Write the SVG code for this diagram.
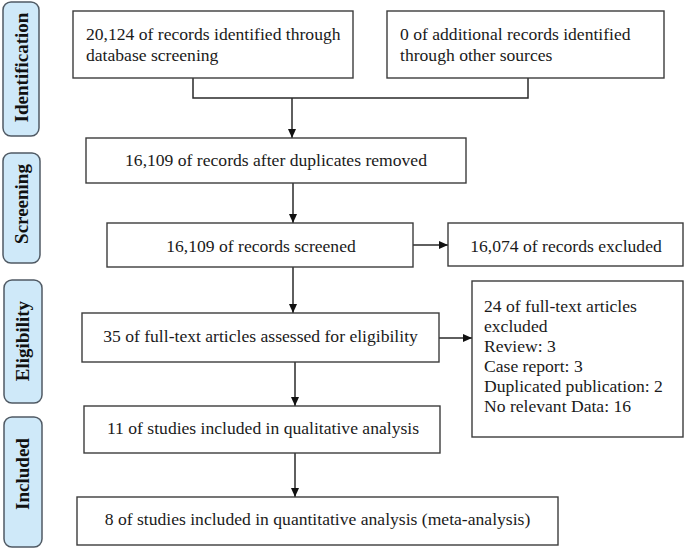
<svg xmlns="http://www.w3.org/2000/svg" width="685" height="549" viewBox="0 0 685 549">
<style>
.bg{fill:#ffffff}
.pill{fill:#cfe9f9;stroke:#505a64;stroke-width:1.5}
.plabel{font-family:"Liberation Serif","Times New Roman",serif;font-weight:bold;font-size:19px;fill:#111;text-anchor:middle}
.box{fill:#ffffff;stroke:#3c3c3c;stroke-width:1.4}
.t{font-family:"Liberation Serif","Times New Roman",serif;font-size:17.6px;fill:#1a1a1a}
.c{text-anchor:middle}
.conn{fill:none;stroke:#2a2a2a;stroke-width:1.5}
</style>
<defs>
<marker id="ah" markerWidth="10" markerHeight="10" refX="9" refY="5" orient="auto" markerUnits="userSpaceOnUse">
<path d="M0,1 L9,5 L0,9 Z" fill="#111"/>
</marker>
</defs>
<rect class="bg" x="0" y="0" width="685" height="549"/>

<g id="stage-identification">
<rect class="pill" x="3" y="2" width="36" height="134" rx="8"/>
<text class="plabel" transform="translate(28,67.5) rotate(-90)">Identification</text>
</g>
<g id="stage-screening">
<rect class="pill" x="3" y="153" width="37" height="110" rx="8"/>
<text class="plabel" transform="translate(28,204) rotate(-90)">Screening</text>
</g>
<g id="stage-eligibility">
<rect class="pill" x="4" y="280" width="38" height="123" rx="8"/>
<text class="plabel" transform="translate(29,341) rotate(-90)">Eligibility</text>
</g>
<g id="stage-included">
<rect class="pill" x="4" y="417" width="38" height="130" rx="8"/>
<text class="plabel" transform="translate(29,474) rotate(-90)">Included</text>
</g>

<g id="connectors">
<path class="conn" d="M193,78 V98 H528 V78"/>
<path class="conn" d="M292,98 V138" marker-end="url(#ah)"/>
<path class="conn" d="M293,183 V223" marker-end="url(#ah)"/>
<path class="conn" d="M413,245 H448" marker-end="url(#ah)"/>
<path class="conn" d="M293,267 V313" marker-end="url(#ah)"/>
<path class="conn" d="M439,338 H472" marker-end="url(#ah)"/>
<path class="conn" d="M295,362 V406" marker-end="url(#ah)"/>
<path class="conn" d="M295,453 V497" marker-end="url(#ah)"/>
</g>

<g id="n-database">
<rect class="box" x="73" y="11" width="280" height="67"/>
<text class="t" x="86" y="40">20,124 of records identified through</text>
<text class="t" x="86" y="61">database screening</text>
</g>
<g id="n-other">
<rect class="box" x="387" y="11" width="277" height="67"/>
<text class="t" x="400" y="40">0 of additional records identified</text>
<text class="t" x="400" y="61">through other sources</text>
</g>
<g id="n-dedup">
<rect class="box" x="86" y="138" width="380" height="45"/>
<text class="t c" x="276" y="166">16,109 of records after duplicates removed</text>
</g>
<g id="n-screened">
<rect class="box" x="107" y="223" width="306" height="44"/>
<text class="t c" x="261" y="252">16,109 of records screened</text>
</g>
<g id="n-excluded">
<rect class="box" x="448" y="223" width="235" height="43"/>
<text class="t c" x="566" y="252">16,074 of records excluded</text>
</g>
<g id="n-fulltext">
<rect class="box" x="82" y="313" width="357" height="49"/>
<text class="t c" x="260.5" y="342">35 of full-text articles assessed for eligibility</text>
</g>
<g id="n-ft-excluded">
<rect class="box" x="472" y="281" width="211" height="156"/>
<text class="t" x="484" y="312">24 of full-text articles</text>
<text class="t" x="484" y="332">excluded</text>
<text class="t" x="484" y="352">Review: 3</text>
<text class="t" x="484" y="372">Case report: 3</text>
<text class="t" x="484" y="392">Duplicated publication: 2</text>
<text class="t" x="484" y="412">No relevant Data: 16</text>
</g>
<g id="n-qualitative">
<rect class="box" x="84" y="406" width="356" height="47"/>
<text class="t c" x="263" y="434">11 of studies included in qualitative analysis</text>
</g>
<g id="n-quantitative">
<rect class="box" x="77" y="497" width="481" height="48"/>
<text class="t c" x="317.5" y="525">8 of studies included in quantitative analysis (meta-analysis)</text>
</g>
</svg>
